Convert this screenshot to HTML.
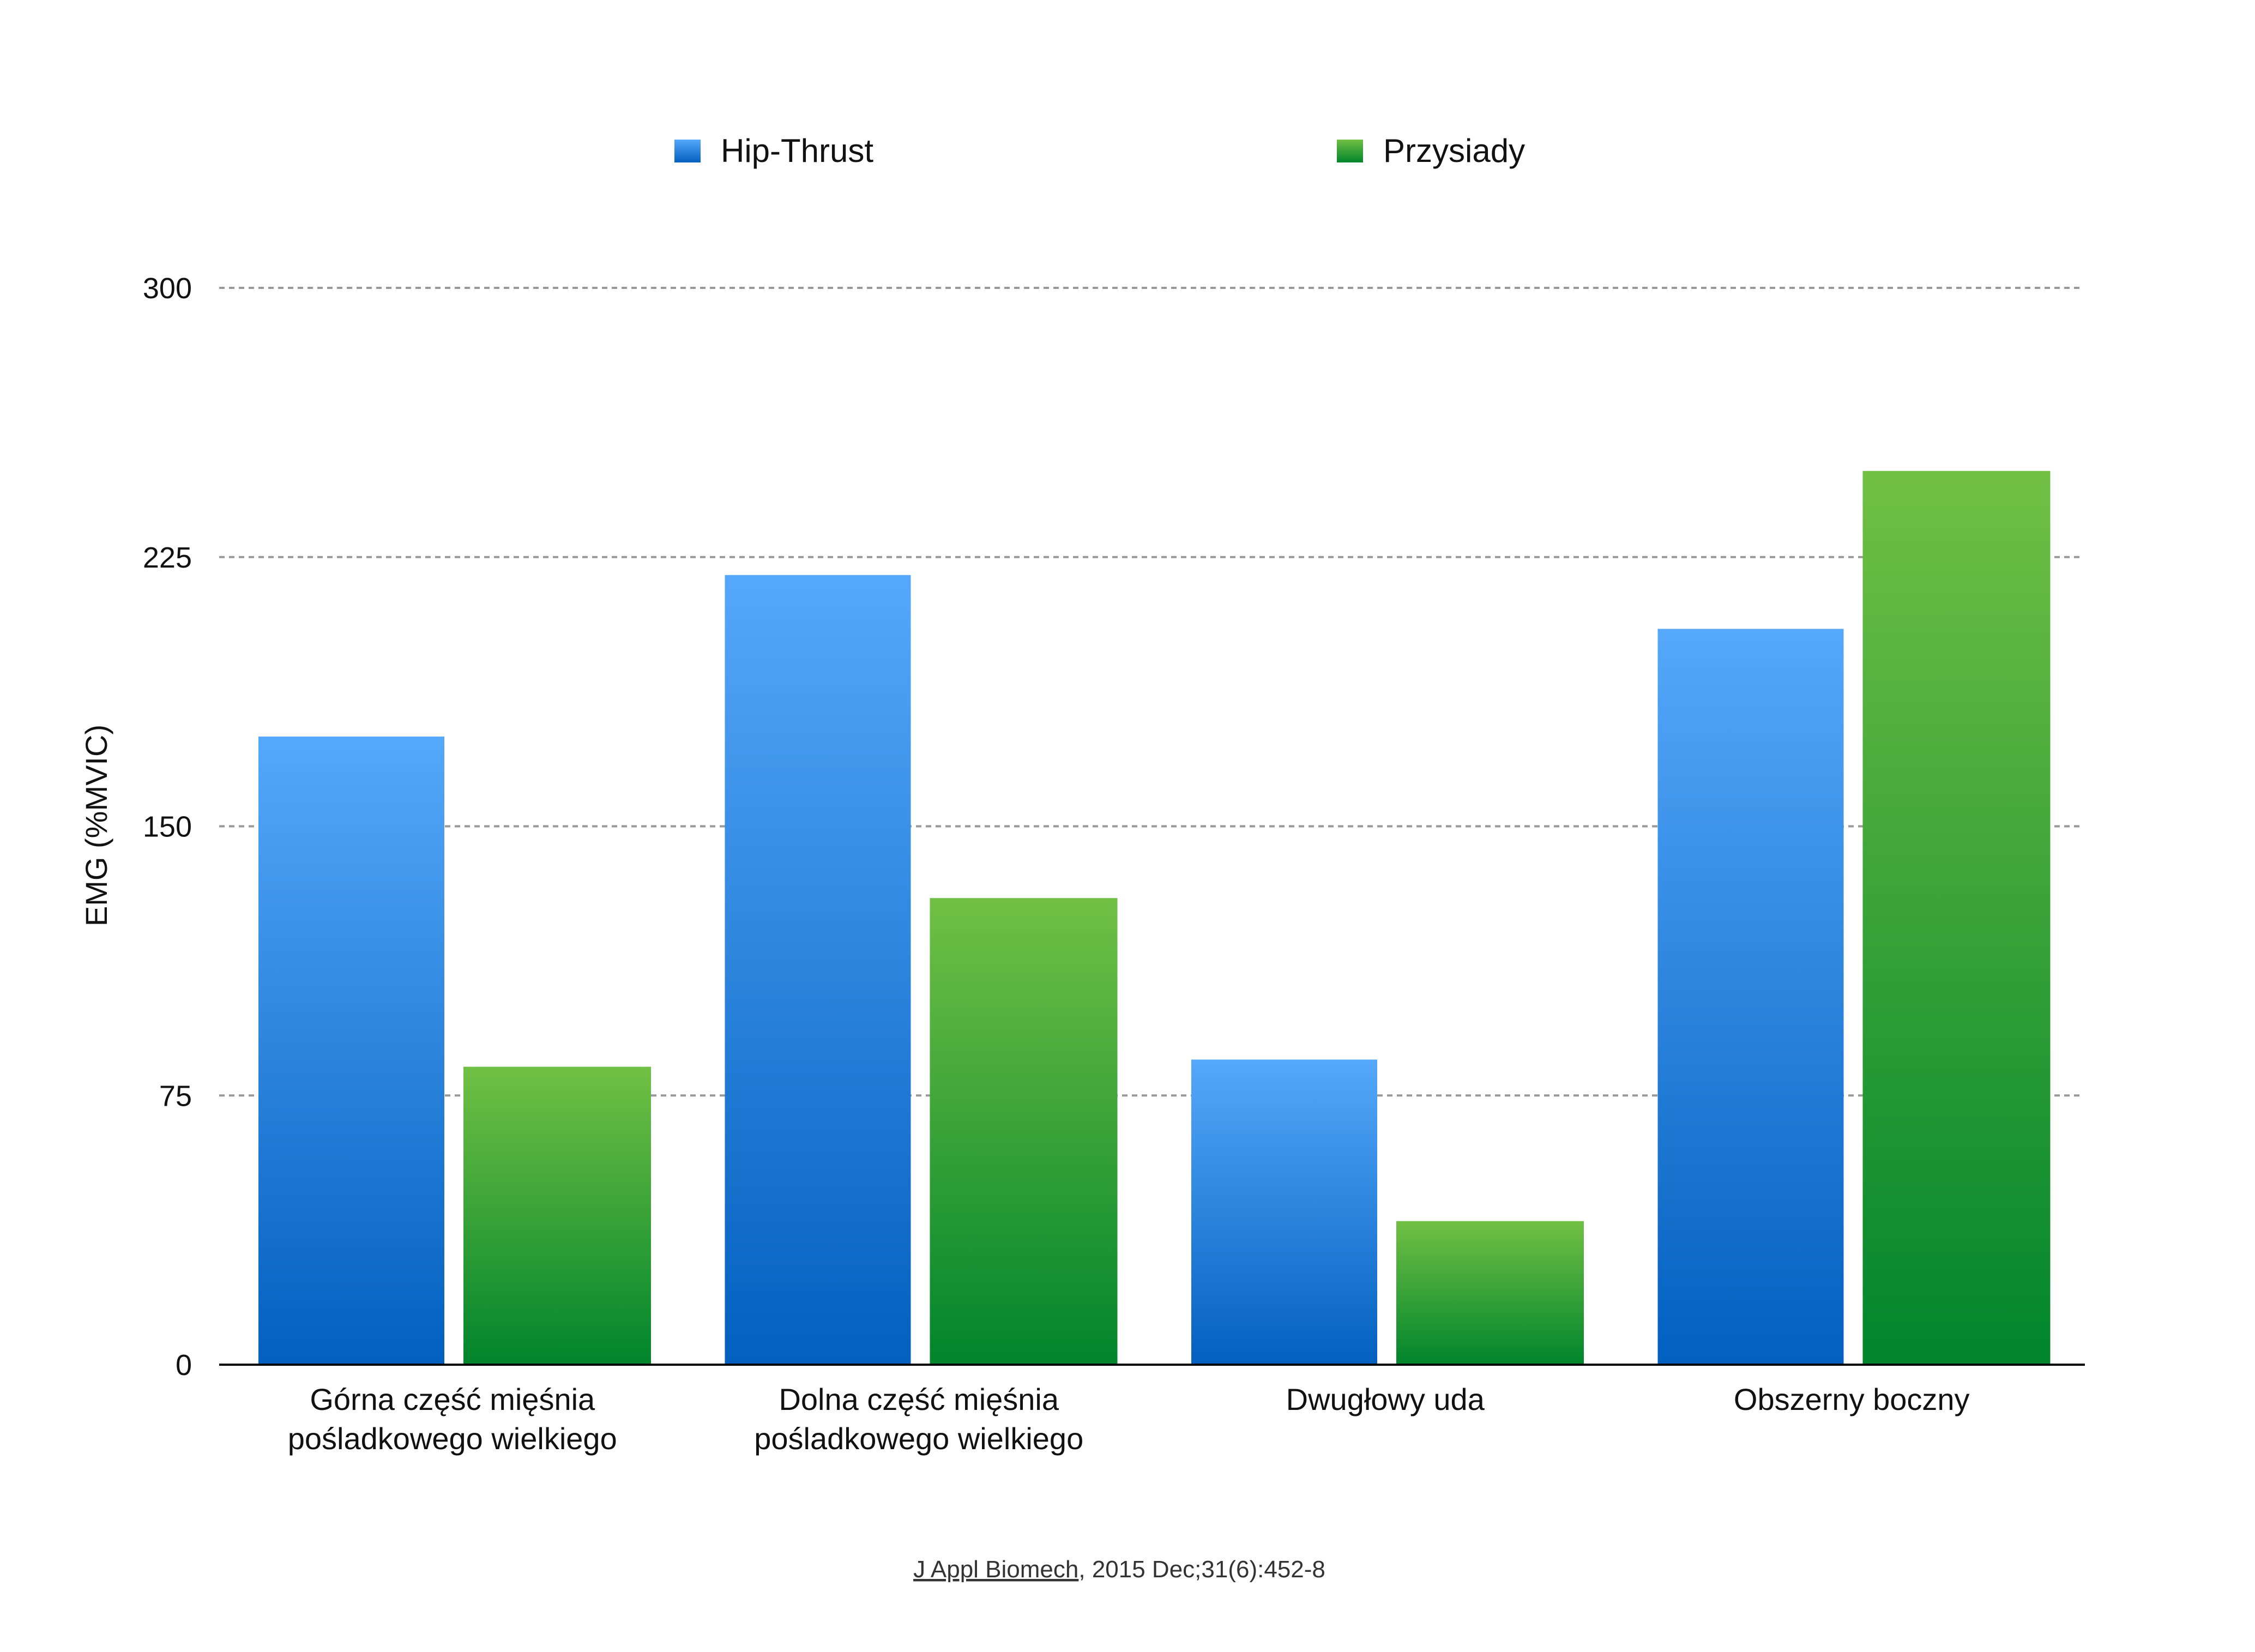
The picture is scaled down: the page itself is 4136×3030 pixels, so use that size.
<!DOCTYPE html>
<html><head><meta charset="utf-8"><style>
html,body{margin:0;padding:0;background:#fff;}
svg{display:block;font-family:"Liberation Sans",sans-serif;}
</style></head><body>
<svg id="chart" width="4136" height="3030" viewBox="0 0 4136 3030">
<defs>
<linearGradient id="gb" x1="0" y1="0" x2="0" y2="1"><stop offset="0" stop-color="#55a8fb"/><stop offset="1" stop-color="#0360bf"/></linearGradient>
<linearGradient id="gg" x1="0" y1="0" x2="0" y2="1"><stop offset="0" stop-color="#71c044"/><stop offset="1" stop-color="#00852c"/></linearGradient>
</defs>
<g id="legend">
<rect x="1237" y="256" width="48" height="42" fill="url(#gb)"/>
<text x="1322" y="297" font-size="60" fill="#111">Hip-Thrust</text>
<rect x="2452" y="256" width="48" height="42" fill="url(#gg)"/>
<text x="2537" y="297" font-size="60" fill="#111">Przysiady</text>
</g>
<g id="grid"></g><g id="bars"></g><g id="xlabels"></g>
<line x1="402" y1="2503" x2="3824" y2="2503" stroke="#000" stroke-width="4"/>
<text transform="translate(196,1514) rotate(-90)" text-anchor="middle" font-size="56" fill="#111">EMG (%MVIC)</text>
<text x="2053" y="2893" text-anchor="middle" font-size="44" fill="#333"><tspan text-decoration="underline">J Appl Biomech</tspan>, 2015 Dec;31(6):452-8</text>
</svg>
<script>
const categories=[["Górna część mięśnia","pośladkowego wielkiego"],["Dolna część mięśnia","pośladkowego wielkiego"],["Dwugłowy uda"],["Obszerny boczny"]];
const hipThrust=[175,220,85,205];
const przysiady=[83,130,40,249];
const yTicks=[0,75,150,225,300];
const NS="http://www.w3.org/2000/svg";
const x0=402,x1=3824,yBase=2503,yTop=528,yMax=300;
const y=v=>yBase-(v/yMax)*(yBase-yTop);
const slot=(x1-x0)/categories.length;
function mk(tag,attrs,parent){const e=document.createElementNS(NS,tag);for(const k in attrs)e.setAttribute(k,attrs[k]);parent.appendChild(e);return e;}
const grid=document.getElementById('grid');
yTicks.forEach(t=>{
  if(t>0){const l=mk('line',{x1:x0,x2:3816,y1:y(t),y2:y(t),stroke:'#999','stroke-width':4,'stroke-dasharray':'10 8'},grid);
  
  }
  const tx=mk('text',{x:352,y:y(t)+19,'text-anchor':'end','font-size':54,fill:'#111'},grid);
  tx.textContent=t;
  
  
});
const bars=document.getElementById('bars'),xl=document.getElementById('xlabels');
categories.forEach((c,i)=>{
  const sx=x0+i*slot;
  const b=mk('rect',{x:sx+72,y:y(hipThrust[i]),width:341,height:yBase-y(hipThrust[i]),fill:'url(#gb)'},bars);
  
  
  const g=mk('rect',{x:sx+448,y:y(przysiady[i]),width:344,height:yBase-y(przysiady[i]),fill:'url(#gg)'},bars);
  
  
  c.forEach((line,j)=>{
    const t=mk('text',{x:sx+slot/2+(sx+slot/2>0?0:0),y:2586+j*72,'text-anchor':'middle','font-size':56,fill:'#111'},xl);
    t.textContent=line;
    
    
  });
});
</script>
</body></html>
